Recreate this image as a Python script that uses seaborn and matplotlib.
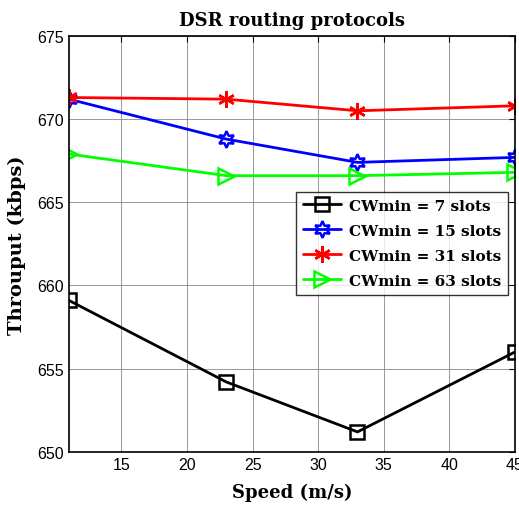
import pandas as pd
import numpy as np
import matplotlib
matplotlib.use("Agg")
import matplotlib.pyplot as plt
import seaborn as sns

speed = [11, 23, 33, 45]
cw7 = [659.1, 654.2, 651.2, 656.0]
cw15 = [671.2, 668.8, 667.4, 667.7]
cw31 = [671.3, 671.2, 670.5, 670.8]
cw63 = [667.9, 666.6, 666.6, 666.8]
labels = ["CWmin = 7 slots", "CWmin = 15 slots", "CWmin = 31 slots", "CWmin = 63 slots"]

sns.set_style("white")
plt.rcParams['font.family'] = ['Liberation Sans', 'DejaVu Sans']
plt.rcParams['text.color'] = 'black'
plt.rcParams['axes.labelcolor'] = 'black'
plt.rcParams['xtick.color'] = 'black'
plt.rcParams['ytick.color'] = 'black'

fig = plt.figure(figsize=(5.19, 5.06), dpi=100)
ax = fig.add_axes([0.133, 0.105, 0.859, 0.822])

series = [cw7, cw15, cw31, cw63]
colors = ["black", "#0000ff", "#ff0000", "#00ff00"]
markers = ["s", (6, 1, 0), (6, 2, 0), ">"]
msizes = [10, 12, 12, 12]

for vals, lab, c, m, ms in zip(series, labels, colors, markers, msizes):
    df = pd.DataFrame({"speed": speed, "thr": vals})
    sns.lineplot(data=df, x="speed", y="thr", ax=ax, color=c, marker=m,
                 markersize=ms, markerfacecolor="none", markeredgecolor=c,
                 markeredgewidth=1.8, linewidth=2, label=lab, legend=False)

ax.set_xlim(11, 45)
ax.set_ylim(650, 675)
ax.set_xticks([15, 20, 25, 30, 35, 40, 45])
ax.set_yticks([650, 655, 660, 665, 670, 675])
ax.tick_params(direction="in", top=True, right=True, labelsize=11.5, length=4, color="black")
ax.grid(True, color="#888888", linewidth=0.6)
for s in ax.spines.values():
    s.set_color("black")
    s.set_linewidth(1.2)

serif = {"family": ["DejaVu Serif"], "weight": "bold", "size": 13}
ax.set_title("DSR routing protocols", fontdict=serif, pad=8)
ax.set_xlabel("Speed (m/s)", fontdict=serif, labelpad=8)
ax.set_ylabel("Throuput (kbps)", fontdict={**serif, "size": 14}, labelpad=8)

leg = ax.legend(loc="upper right", bbox_to_anchor=(0.985, 0.625), borderaxespad=0,
                frameon=True, fancybox=False, edgecolor="black", handlelength=2.5,
                handletextpad=0.5, borderpad=0.45, labelspacing=0.72,
                prop={"family": ["DejaVu Serif"], "weight": "bold", "size": 11})
leg.get_frame().set_linewidth(1.0)

fig.savefig("out.png", dpi=100)
